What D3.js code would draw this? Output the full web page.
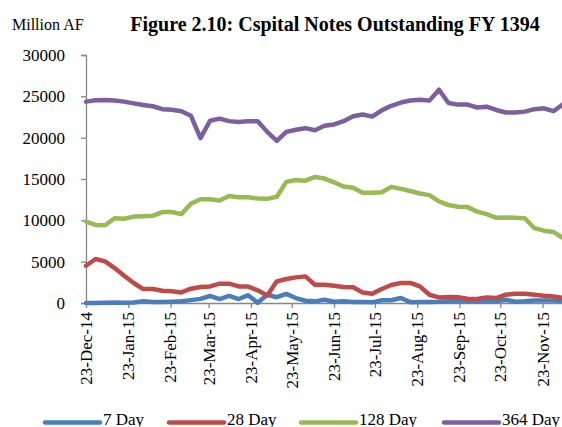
<!DOCTYPE html>
<html>
<head>
<meta charset="utf-8">
<script src="https://cdn.jsdelivr.net/npm/d3@7"></script>
<style>
html,body{margin:0;padding:0;background:#fff;}
svg{display:block;font-family:"Liberation Serif","Times New Roman",serif;}
</style>
</head>
<body>
<svg id="chart" width="562" height="427"></svg>
<script>
const dates = ["2014-12-23","2014-12-30","2015-01-06","2015-01-13","2015-01-20","2015-01-27","2015-02-03","2015-02-10","2015-02-17","2015-02-24","2015-03-03","2015-03-10","2015-03-17","2015-03-24","2015-03-31","2015-04-07","2015-04-14","2015-04-21","2015-04-28","2015-05-05","2015-05-12","2015-05-19","2015-05-26","2015-06-02","2015-06-09","2015-06-16","2015-06-23","2015-06-30","2015-07-07","2015-07-14","2015-07-21","2015-07-28","2015-08-04","2015-08-11","2015-08-18","2015-08-25","2015-09-01","2015-09-08","2015-09-15","2015-09-22","2015-09-29","2015-10-06","2015-10-13","2015-10-20","2015-10-27","2015-11-03","2015-11-10","2015-11-17","2015-11-24","2015-12-01","2015-12-08"];

const day7 = [0,0,20,50,30,60,200,120,120,150,200,350,500,850,480,850,480,950,20,1000,700,1100,600,270,200,400,150,200,130,130,80,330,330,600,100,130,130,150,200,200,200,180,200,200,400,150,200,300,300,300,250];
const day28 = [4510,5320,5030,4230,3300,2420,1690,1690,1490,1410,1280,1730,1940,2010,2340,2340,2010,1990,1530,920,2620,2900,3100,3220,2210,2210,2090,1940,1900,1280,1120,1690,2180,2420,2420,2010,1000,680,720,700,520,480,680,600,1000,1120,1120,1000,880,800,600];
const day128 = [9850,9450,9400,10250,10200,10450,10500,10550,11000,11000,10750,12000,12550,12550,12400,12950,12800,12800,12650,12600,12850,14650,14880,14800,15250,15050,14600,14100,13950,13350,13350,13400,14050,13800,13550,13250,13050,12300,11850,11650,11600,11050,10750,10300,10350,10300,10250,9050,8750,8600,7850];
const day364 = [24360,24520,24550,24500,24360,24150,23950,23800,23450,23380,23200,22650,19950,22050,22300,22000,21900,22000,22000,20700,19600,20700,20950,21150,20900,21450,21600,22000,22600,22800,22550,23300,23850,24250,24500,24600,24480,25800,24200,24000,24000,23650,23750,23350,23050,23050,23150,23450,23550,23200,24050];

const seriesNames = ["7 Day","28 Day","128 Day","364 Day"];
const seriesColors = ["#4A7EBB","#BE4B48","#98B954","#7D5FA0"];
const tickDates = ["2014-12-23","2015-01-23","2015-02-23","2015-03-23","2015-04-23","2015-05-23","2015-06-23","2015-07-23","2015-08-23","2015-09-23","2015-10-23","2015-11-23"];
const tickLabels = ["23-Dec-14","23-Jan-15","23-Feb-15","23-Mar-15","23-Apr-15","23-May-15","23-Jun-15","23-Jul-15","23-Aug-15","23-Sep-15","23-Oct-15","23-Nov-15"];
const yTicks = [0,5000,10000,15000,20000,25000,30000];

const parse = d3.utcParse("%Y-%m-%d");
const dts = dates.map(parse);
const seriesVals = [day7, day28, day128, day364];

const svg = d3.select("#chart");
const x = d3.scaleUtc().domain([dts[0], dts[dts.length-1]]).range([86, 563]);
const y = d3.scaleLinear().domain([0, 30000]).range([303, 55]);
const axisColor = "#868686";

// Titles
svg.append("text").attr("x", 12).attr("y", 30).attr("font-size", 16).text("Million AF");
svg.append("text").attr("x", 335).attr("y", 31).attr("text-anchor", "middle")
  .attr("font-size", 20).attr("font-weight", "bold")
  .text("Figure 2.10: Cspital Notes Outstanding FY 1394");

// Y axis
const yAxis = svg.append("g").attr("transform", "translate(86,0)")
  .call(d3.axisLeft(y).tickValues(yTicks).tickSize(5).tickPadding(16).tickFormat(d3.format("d")));
yAxis.select(".domain").attr("stroke", axisColor).attr("stroke-width", 1.3);
yAxis.selectAll(".tick line").attr("stroke", axisColor).attr("stroke-width", 1.3);
yAxis.selectAll(".tick text").attr("font-family", "Liberation Serif, serif").attr("font-size", 17).attr("fill", "#000");

// X axis
const xAxis = svg.append("g").attr("transform", "translate(0,303)")
  .call(d3.axisBottom(x).tickValues(tickDates.map(parse)).tickSize(5).tickSizeOuter(0)
    .tickFormat((d, i) => tickLabels[i]));
xAxis.select(".domain").attr("stroke", axisColor).attr("stroke-width", 1.3);
xAxis.selectAll(".tick line").attr("stroke", axisColor).attr("stroke-width", 1.3);
xAxis.selectAll(".tick text")
  .attr("font-family", "Liberation Serif, serif").attr("font-size", 17).attr("fill", "#000")
  .attr("text-anchor", "end").attr("dy", null).attr("y", 0).attr("x", 0)
  .attr("dominant-baseline", "central")
  .attr("transform", "translate(0,9) rotate(-90)");

// Lines
const line = d3.line().x((d, i) => x(dts[i])).y(d => y(d));
seriesVals.forEach((vals, k) => {
  svg.append("path").datum(vals)
    .attr("d", line)
    .attr("fill", "none")
    .attr("stroke", seriesColors[k])
    .attr("stroke-width", 4.5)
    .attr("stroke-linejoin", "round")
    .attr("stroke-linecap", "round");
});

// Legend
const legX = [45, 169, 301, 444];
seriesNames.forEach((name, k) => {
  const g = svg.append("g");
  g.append("line").attr("x1", legX[k]).attr("x2", legX[k] + 55)
    .attr("y1", 422.5).attr("y2", 422.5)
    .attr("stroke", seriesColors[k]).attr("stroke-width", 4.5).attr("stroke-linecap", "round");
  g.append("text").attr("x", legX[k] + 58).attr("y", 425).attr("font-size", 17).text(name);
});
</script>
</body>
</html>
